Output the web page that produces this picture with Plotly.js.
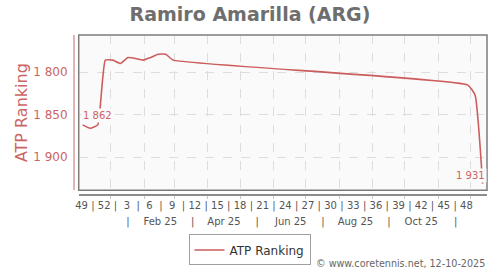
<!DOCTYPE html>
<html>
<head>
<meta charset="utf-8">
<script src="https://cdn.plot.ly/plotly-3.0.1.min.js"></script>
<style>html,body{margin:0;padding:0;background:#fff;}#chart{width:500px;height:270px;}</style>
</head>
<body>
<div id="chart"></div>
<script>
// ---- data ----
const dates = ['2024-12-06','2024-12-13','2024-12-20','2024-12-27','2025-01-03','2025-01-10','2025-01-17','2025-01-24','2025-01-31','2025-02-07','2025-02-14','2025-02-21','2025-02-28','2025-11-28','2025-12-05','2025-12-12'];
const ranks = [1862,1866,1862,1786,1786,1790,1783,1784,1786,1783,1779,1779,1786,1815,1827,1931];

const yTickVals = [1800,1850,1900];
const yTickText = ['1 800','1 850','1 900'];

const weekLabels = ['49','52','3','6','9','12','15','18','21','24','27','30','33','36','39','42','45','48'];
const weekDates = ['2024-12-05','2024-12-26','2025-01-16','2025-02-06','2025-02-27','2025-03-20','2025-04-10','2025-05-01','2025-05-22','2025-06-12','2025-07-03','2025-07-24','2025-08-14','2025-09-04','2025-09-25','2025-10-16','2025-11-06','2025-11-27'];

const monthLabels = ['Feb 25','Apr 25','Jun 25','Aug 25','Oct 25'];
const monthDates = ['2025-02-16','2025-04-16','2025-06-17','2025-08-16','2025-10-16'];
const monthSeps = ['2025-01-17','2025-03-18','2025-05-17','2025-07-17','2025-09-16','2025-11-17'];

const seriesName = 'ATP Ranking';
const credit = '© www.coretennis.net, 12-10-2025';

// ---- helpers ----
function fmt(n){ const s = String(n); return s.length > 3 ? s.slice(0, s.length-3) + ' ' + s.slice(-3) : s; }
function isoDT(ms){ return new Date(ms).toISOString().slice(0,16).replace('T',' '); }
const weekSeps = [];
for (let i = 0; i < weekDates.length - 1; i++) {
  const a = Date.parse(weekDates[i]), b = Date.parse(weekDates[i+1]);
  weekSeps.push(isoDT((a + b) / 2));
}

const red = '#cc6464';
const xRange = ['2024-12-02 08:00', '2025-12-16 02:00'];

const trace = {
  type: 'scatter', mode: 'lines', x: dates, y: ranks, name: seriesName,
  line: {color: '#cd5c5c', width: 1.6, shape: 'spline', smoothing: 0.4},
  hoverinfo: 'skip', xaxis: 'x', yaxis: 'y'
};
// empty helper traces so the overlaying label axes get drawn
const helperWeeks = {type: 'scatter', mode: 'none', x: weekDates, y: weekDates.map(() => null),
  xaxis: 'x2', yaxis: 'y', showlegend: false, hoverinfo: 'skip'};
const helperMonths = {type: 'scatter', mode: 'none', x: monthDates, y: monthDates.map(() => null),
  xaxis: 'x3', yaxis: 'y', showlegend: false, hoverinfo: 'skip'};

const layout = {
  width: 500, height: 270,
  margin: {l: 73, r: 13, t: 35, b: 76, pad: 0, autoexpand: false},
  paper_bgcolor: '#ffffff', plot_bgcolor: '#fafafa',
  font: {family: 'DejaVu Sans, sans-serif', size: 10, color: '#555'},
  showlegend: true,
  title: {text: 'Ramiro Amarilla (ARG)', x: 0.5, xanchor: 'center', xref: 'container',
          y: 0.948, yanchor: 'middle', yref: 'container',
          font: {family: 'DejaVu Sans, sans-serif', size: 19, color: '#6e6e6e', weight: 'bold'}},
  xaxis: {
    type: 'date', range: xRange, domain: [0.0138, 1], anchor: 'free', position: 0,
    tick0: '2025-01-01', dtick: 'M1', showticklabels: false,
    ticks: 'outside', ticklen: 3, tickcolor: '#c8c8c8', tickwidth: 1,
    showgrid: true, gridcolor: '#dddddd', griddash: 'dash', gridwidth: 1,
    showline: true, linecolor: '#8c8c8c', linewidth: 1.5, zeroline: false, fixedrange: true
  },
  xaxis2: {
    type: 'date', range: xRange, overlaying: 'x', domain: [0.0138, 1], anchor: 'free', position: 0,
    tickmode: 'array', tickvals: weekDates.concat(weekSeps),
    ticktext: weekLabels.concat(weekSeps.map(() => '|')),
    ticks: '', showgrid: false, showline: false, zeroline: false,
    tickfont: {size: 10, color: '#555'}, ticklabelstandoff: 4, fixedrange: true
  },
  xaxis3: {
    type: 'date', range: xRange, overlaying: 'x', domain: [0.0138, 1], anchor: 'free', position: 0,
    tickmode: 'array', tickvals: monthDates.concat(monthSeps),
    ticktext: monthLabels.concat(monthSeps.map(() => '|')),
    ticks: '', showgrid: false, showline: false, zeroline: false,
    tickfont: {size: 10, color: '#555'}, ticklabelstandoff: 20, fixedrange: true
  },
  yaxis: {
    range: [1938.8, 1756.5], domain: [0.0233, 1], anchor: 'free', position: 0,
    tickmode: 'array', tickvals: yTickVals, ticktext: yTickText,
    ticks: '', tickfont: {size: 12, color: red}, ticklabelstandoff: 3,
    showgrid: true, gridcolor: '#dddddd', griddash: 'dash', gridwidth: 1,
    showline: true, linecolor: '#e2b4b4', linewidth: 1.5, zeroline: false,
    title: {text: 'ATP Ranking', font: {size: 16, color: red}, standoff: 0},
    fixedrange: true
  },
  shapes: [{type: 'rect', xref: 'x domain', yref: 'y domain', x0: 0, x1: 1, y0: 0, y1: 1,
            line: {color: '#7c7c7c', width: 1.5}, fillcolor: 'rgba(0,0,0,0)', layer: 'above'}],
  legend: {orientation: 'h', x: 0.499, xref: 'container', xanchor: 'center',
           y: 0.1315, yref: 'container', yanchor: 'top',
           bordercolor: '#a0a0a0', borderwidth: 1, bgcolor: '#ffffff',
           font: {size: 12, color: '#333'}},
  annotations: [
    {x: dates[0], y: ranks[0], xref: 'x', yref: 'y', text: fmt(ranks[0]), showarrow: false,
     xanchor: 'left', yanchor: 'bottom', xshift: -2, yshift: 2, bgcolor: '#fafafa', borderpad: 1,
     font: {size: 10, color: red}},
    {x: dates[dates.length-1], y: ranks[ranks.length-1], xref: 'x', yref: 'y',
     text: fmt(ranks[ranks.length-1]), showarrow: false,
     xanchor: 'right', yanchor: 'bottom', xshift: 4, yshift: 1, bgcolor: '#fafafa', borderpad: 1,
     font: {size: 10, color: red}},
    {x: 1, y: -0.434, xref: 'paper', yref: 'paper', text: credit, showarrow: false,
     xanchor: 'right', yanchor: 'middle', font: {size: 9.6, color: '#666'}}
  ]
};

Plotly.newPlot('chart', [trace, helperWeeks, helperMonths], layout, {staticPlot: true, displayModeBar: false});
</script>
</body>
</html>
